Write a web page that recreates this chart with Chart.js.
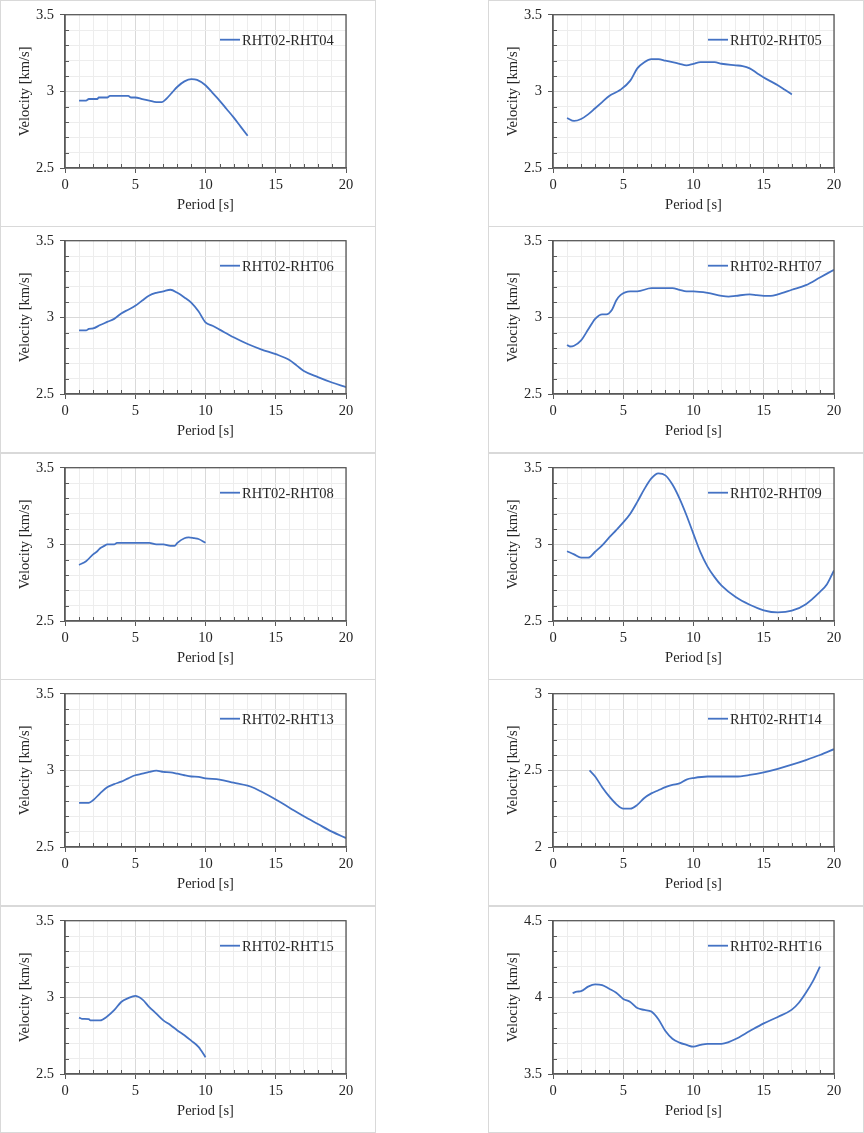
<!DOCTYPE html>
<html>
<head>
<meta charset="utf-8">
<script src="https://cdn.jsdelivr.net/npm/chart.js@4/dist/chart.umd.min.js"></script>
<style>
  html, body { margin: 0; padding: 0; background: #ffffff; }
  #page { position: relative; width: 864px; height: 1133px; overflow: hidden; }
  .frame { position: absolute; box-sizing: border-box; border: 1px solid #d9d9d9; }
  canvas { position: absolute; }
</style>
</head>
<body>
<div id="page"></div>
<script>
// ---- Data ----
const pairLabels = ["RHT02-RHT04","RHT02-RHT05","RHT02-RHT06","RHT02-RHT07","RHT02-RHT08",
                    "RHT02-RHT09","RHT02-RHT13","RHT02-RHT14","RHT02-RHT15","RHT02-RHT16"];
const yAxisMin = [2.5, 2.5, 2.5, 2.5, 2.5, 2.5, 2.5, 2.0, 2.5, 3.5];
const yAxisMax = [3.5, 3.5, 3.5, 3.5, 3.5, 3.5, 3.5, 3.0, 3.5, 4.5];
const xAxisMin = 0, xAxisMax = 20;

const periods04 = [1,1.5,1.7,2.3,2.4,3.0,3.2,4.5,4.7,5.0,5.5,6.0,6.5,6.9,7.2,7.6,8.0,8.5,9.0,9.4,10.0,10.5,11,11.5,12,12.5,13];
const velocity04 = [2.94,2.94,2.95,2.95,2.96,2.96,2.97,2.97,2.96,2.96,2.95,2.94,2.93,2.93,2.95,2.99,3.03,3.065,3.08,3.075,3.04,2.99,2.94,2.885,2.83,2.77,2.71];

const periods05 = [1,1.5,2,2.5,3,3.5,4,4.8,5.5,6,6.5,7,7.5,8,8.5,9,9.5,10,10.5,11,11.5,12,13,13.5,14,14.5,15,15.5,16,16.5,17];
const velocity05 = [2.826,2.807,2.82,2.85,2.89,2.93,2.97,3.01,3.07,3.15,3.19,3.21,3.21,3.20,3.19,3.18,3.17,3.18,3.19,3.19,3.19,3.18,3.17,3.165,3.15,3.12,3.09,3.065,3.04,3.01,2.98];

const periods06 = [1,1.5,1.7,2,2.5,3,3.5,4,4.5,5,5.5,6,6.5,7,7.5,8,8.5,9,9.5,10,10.5,11,12,13,14,15,16,16.5,17,18,19,20];
const velocity06 = [2.915,2.915,2.925,2.928,2.95,2.97,2.99,3.025,3.05,3.075,3.11,3.143,3.16,3.17,3.18,3.16,3.13,3.095,3.04,2.967,2.945,2.92,2.87,2.826,2.79,2.76,2.72,2.685,2.65,2.61,2.575,2.545];

const periods07 = [1,1.2,1.5,2,2.5,3,3.5,3.8,4.2,4.5,4.8,5.5,6,7,8,8.5,9,9.5,10,11,12,12.5,13,14,14.5,15,15.5,16,17,18,19,20];
const velocity07 = [2.82,2.81,2.815,2.85,2.92,2.99,3.02,3.02,3.05,3.11,3.145,3.17,3.17,3.19,3.19,3.19,3.18,3.17,3.17,3.16,3.14,3.135,3.14,3.15,3.145,3.14,3.14,3.15,3.18,3.21,3.26,3.31];

const periods08 = [1,1.5,2,2.3,2.5,2.8,3,3.5,3.7,5,6,6.5,7,7.5,7.8,8,8.5,8.8,9.2,9.5,10];
const velocity08 = [2.866,2.89,2.935,2.955,2.975,2.99,3.0,3.0,3.01,3.01,3.01,3.0,3.0,2.99,2.99,3.01,3.04,3.045,3.04,3.035,3.01];

const periods09 = [1,1.5,2,2.5,3,3.5,4,4.5,5,5.5,6,6.5,7,7.5,8,8.5,9,9.5,10,10.5,11,11.5,12,13,14,15,16,17,18,19,19.5,20];
const velocity09 = [2.955,2.935,2.913,2.913,2.952,2.993,3.045,3.093,3.143,3.2,3.277,3.36,3.43,3.463,3.45,3.39,3.3,3.19,3.067,2.948,2.855,2.786,2.73,2.656,2.606,2.57,2.556,2.567,2.61,2.69,2.74,2.83];

const periods13 = [1,1.7,2,2.5,3,3.5,4,4.5,5,5.5,6,6.5,7,7.5,8,8.5,9,9.5,10,11,12,13,13.5,14,15,16,17,18,19,20];
const velocity13 = [2.788,2.788,2.805,2.85,2.89,2.91,2.926,2.948,2.968,2.978,2.99,2.998,2.99,2.987,2.978,2.968,2.96,2.957,2.948,2.94,2.92,2.9,2.883,2.86,2.81,2.755,2.7,2.65,2.6,2.558];

const periods14 = [2.6,3,3.5,4,4.5,5,5.5,6,6.5,7,7.5,8,8.5,9,9.5,10,11,12,13,14,15,16,17,18,19,20];
const velocity14 = [2.5,2.46,2.39,2.33,2.28,2.25,2.25,2.275,2.32,2.35,2.37,2.39,2.405,2.415,2.44,2.45,2.46,2.46,2.46,2.47,2.487,2.51,2.537,2.567,2.6,2.638];

const periods15 = [1,1.2,1.7,1.8,2.5,3,3.5,4,4.5,5,5.5,6,6.5,7,7.5,8,8.5,9,9.5,10];
const velocity15 = [2.868,2.86,2.858,2.85,2.85,2.875,2.916,2.97,2.995,3.01,2.987,2.937,2.894,2.85,2.82,2.784,2.753,2.716,2.677,2.61];

const periods16 = [1.4,1.7,2,2.5,3,3.5,4,4.5,5,5.5,6,6.5,7,7.5,8,8.5,9,9.5,10,10.5,11,12,12.5,13,14,15,16,17,17.5,18,18.5,19];
const velocity16 = [4.027,4.037,4.04,4.07,4.085,4.08,4.056,4.03,3.99,3.97,3.93,3.918,3.907,3.857,3.78,3.73,3.705,3.69,3.678,3.69,3.697,3.697,3.708,3.728,3.78,3.83,3.872,3.92,3.965,4.03,4.106,4.2];

const allPeriods = [periods04, periods05, periods06, periods07, periods08, periods09, periods13, periods14, periods15, periods16];
const allVelocities = [velocity04, velocity05, velocity06, velocity07, velocity08, velocity09, velocity13, velocity14, velocity15, velocity16];

// ---- Layout ----
const panelLefts = [0, 488];
const panelTops = [0, 226, 453, 679, 906];
const panelW = 376, panelH = 227;
const FONT = "'Liberation Serif', 'Times New Roman', serif";
const TEXT = '#262626';
const AXIS = '#595959';
const LINE = '#4472C4';

function isMultiple(v, m) {
  const r = v / m;
  return Math.abs(r - Math.round(r)) < 1e-6;
}

const framePlugin = {
  id: 'framePlugin',
  afterDraw(chart, args, opts) {
    const { ctx, chartArea: a, scales } = chart;
    ctx.save();
    // inner minor tick marks
    ctx.strokeStyle = AXIS;
    ctx.lineWidth = 1;
    scales.y.ticks.forEach(t => {
      if (!isMultiple(t.value, 0.5)) {
        const py = Math.round(scales.y.getPixelForValue(t.value)) + 0.5;
        ctx.beginPath(); ctx.moveTo(a.left, py); ctx.lineTo(a.left + 4, py); ctx.stroke();
      }
    });
    scales.x.ticks.forEach(t => {
      if (!isMultiple(t.value, 5)) {
        const px = Math.round(scales.x.getPixelForValue(t.value)) + 0.5;
        ctx.beginPath(); ctx.moveTo(px, a.bottom); ctx.lineTo(px, a.bottom - 4); ctx.stroke();
      }
    });
    // plot-area frame
    ctx.lineWidth = 1.3;
    ctx.strokeStyle = AXIS;
    ctx.strokeRect(a.left, a.top, a.right - a.left, a.bottom - a.top);
    // legend
    const ds = chart.data.datasets[0];
    const ly = a.top + 25;
    ctx.strokeStyle = ds.borderColor;
    ctx.lineWidth = 1.8;
    ctx.beginPath(); ctx.moveTo(a.left + 155, ly); ctx.lineTo(a.left + 175, ly); ctx.stroke();
    ctx.fillStyle = TEXT;
    ctx.font = "14.5px " + FONT;
    ctx.textBaseline = 'middle';
    ctx.textAlign = 'left';
    ctx.fillText(ds.label, a.left + 177, ly + 1);
    ctx.restore();
  }
};

const page = document.getElementById('page');

pairLabels.forEach((label, i) => {
  const col = i % 2, row = Math.floor(i / 2);
  const L = panelLefts[col], T = panelTops[row];

  const frame = document.createElement('div');
  frame.className = 'frame';
  frame.style.left = L + 'px'; frame.style.top = T + 'px';
  frame.style.width = panelW + 'px'; frame.style.height = panelH + 'px';
  page.appendChild(frame);

  const cv = document.createElement('canvas');
  cv.width = panelW; cv.height = 226;
  cv.style.left = L + 'px'; cv.style.top = T + 'px';
  cv.style.width = panelW + 'px'; cv.style.height = '226px';
  page.appendChild(cv);

  const pts = allPeriods[i].map((p, k) => ({ x: p, y: allVelocities[i][k] }));

  new Chart(cv.getContext('2d'), {
    type: 'line',
    data: {
      datasets: [{
        label: label,
        data: pts,
        borderColor: LINE,
        backgroundColor: LINE,
        borderWidth: 1.8,
        pointRadius: 0,
        fill: false,
        cubicInterpolationMode: 'monotone'
      }]
    },
    options: {
      responsive: false,
      animation: false,
      devicePixelRatio: 1,
      layout: { padding: { top: 14, right: 30, left: 0, bottom: 0 } },
      plugins: { legend: { display: false }, tooltip: { enabled: false } },
      scales: {
        x: {
          type: 'linear',
          min: xAxisMin, max: xAxisMax,
          afterFit: s => { s.height = 58; },
          ticks: {
            stepSize: 1, autoSkip: false, maxRotation: 0, padding: 3,
            color: TEXT, font: { family: FONT, size: 14.5 },
            callback: v => isMultiple(v, 5) ? String(Math.round(v)) : ''
          },
          grid: {
            color: c => isMultiple(c.tick.value, 5) ? '#d9d9d9' : '#ededed',
            tickColor: c => isMultiple(c.tick.value, 5) ? AXIS : 'rgba(0,0,0,0)',
            tickLength: 5, lineWidth: 1
          },
          border: { display: true, color: AXIS, width: 1.3 },
          title: {
            display: true, text: 'Period [s]', color: TEXT,
            font: { family: FONT, size: 14.5 }, padding: { top: 0, bottom: 12 }
          }
        },
        y: {
          type: 'linear',
          min: yAxisMin[i], max: yAxisMax[i],
          afterFit: s => { s.width = 65; },
          ticks: {
            stepSize: 0.1, autoSkip: false, padding: 6,
            color: TEXT, font: { family: FONT, size: 14.5 },
            callback: v => isMultiple(v, 0.5) ? String(Math.round(v * 10) / 10) : ''
          },
          grid: {
            color: c => isMultiple(c.tick.value, 0.5) ? '#d9d9d9' : '#ededed',
            tickColor: c => isMultiple(c.tick.value, 0.5) ? AXIS : 'rgba(0,0,0,0)',
            tickLength: 5, lineWidth: 1
          },
          border: { display: true, color: AXIS, width: 1.3 },
          title: {
            display: true, text: 'Velocity [km/s]', color: TEXT,
            font: { family: FONT, size: 14.5 }, padding: { top: 16, bottom: 0 }
          }
        }
      }
    },
    plugins: [framePlugin]
  });
});
</script>
</body>
</html>
